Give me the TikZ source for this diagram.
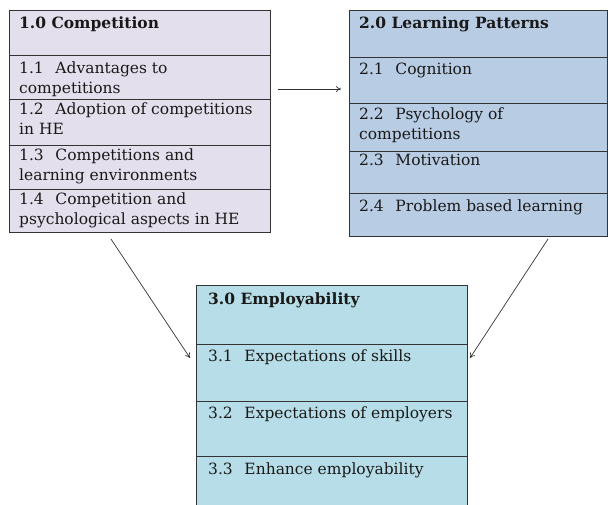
\documentclass[tikz,border=0pt]{standalone}
\usepackage{fontspec}
\setmainfont{DejaVu Serif}
\usetikzlibrary{arrows.meta}
\definecolor{lav}{HTML}{E4DFEC}
\definecolor{lblue}{HTML}{B8CCE4}
\definecolor{lcyan}{HTML}{B7DEE8}
\definecolor{edge}{HTML}{333333}
\newcommand{\nsp}{\hspace{0.75em}}
\begin{document}
\begin{tikzpicture}[x=1pt,y=-1pt,
  cell/.style={draw=edge, line width=0.9pt, inner sep=0pt, anchor=north west},
  txt/.style={anchor=north west, inner sep=0pt, align=left,
    font=\fontsize{15.5}{20}\selectfont, text=black!90},
  conn/.style={draw=black!80, line width=0.7pt, -{To[length=5pt,width=6pt]}}]
\useasboundingbox (0,0) rectangle (608,504);
% ---- Box 1
\node[cell, fill=lav, minimum width=261pt, minimum height=45pt] (c10) at (9,10) {};
\node[cell, fill=lav, minimum width=261pt, minimum height=44pt] (c11) at (9,55) {};
\node[cell, fill=lav, minimum width=261pt, minimum height=46pt] (c12) at (9,99) {};
\node[cell, fill=lav, minimum width=261pt, minimum height=44pt] (c13) at (9,145) {};
\node[cell, fill=lav, minimum width=261pt, minimum height=43pt] (c14) at (9,189) {};
\node[txt] (t10) at ([xshift=10pt,yshift=-6.5pt]c10.north west) {\textbf{1.0 Competition}};
\node[txt] (t11) at ([xshift=10pt,yshift=-6.5pt]c11.north west) {1.1\nsp Advantages to\\competitions};
\node[txt] (t12) at ([xshift=10pt,yshift=-4pt]c12.north west) {1.2\nsp Adoption of competitions\\in HE};
\node[txt] (t13) at ([xshift=10pt,yshift=-3.5pt]c13.north west) {1.3\nsp Competitions and\\learning environments};
\node[txt] (t14) at ([xshift=10pt,yshift=-3.5pt]c14.north west) {1.4\nsp Competition and\\psychological aspects in HE};
% ---- Box 2
\node[cell, fill=lblue, minimum width=258pt, minimum height=47pt] (c20) at (349,10) {};
\node[cell, fill=lblue, minimum width=258pt, minimum height=46pt] (c21) at (349,57) {};
\node[cell, fill=lblue, minimum width=258pt, minimum height=48pt] (c22) at (349,103) {};
\node[cell, fill=lblue, minimum width=258pt, minimum height=42pt] (c23) at (349,151) {};
\node[cell, fill=lblue, minimum width=258pt, minimum height=43pt] (c24) at (349,193) {};
\node[txt] (t20) at ([xshift=10pt,yshift=-7pt]c20.north west) {\textbf{2.0 Learning Patterns}};
\node[txt] (t21) at ([xshift=10pt,yshift=-5.5pt]c21.north west) {2.1\nsp Cognition};
\node[txt] (t22) at ([xshift=10pt,yshift=-4.5pt]c22.north west) {2.2\nsp Psychology of\\competitions};
\node[txt] (t23) at ([xshift=10pt,yshift=-3pt]c23.north west) {2.3\nsp Motivation};
\node[txt] (t24) at ([xshift=10pt,yshift=-6.5pt]c24.north west) {2.4\nsp Problem based learning};
% ---- Box 3
\node[cell, fill=lcyan, minimum width=271pt, minimum height=59pt] (c30) at (196,285) {};
\node[cell, fill=lcyan, minimum width=271pt, minimum height=57pt] (c31) at (196,344) {};
\node[cell, fill=lcyan, minimum width=271pt, minimum height=55pt] (c32) at (196,401) {};
\node[cell, fill=lcyan, minimum width=271pt, minimum height=52pt] (c33) at (196,456) {};
\node[txt] (t30) at ([xshift=12pt,yshift=-7.5pt]c30.north west) {\textbf{3.0 Employability}};
\node[txt] (t31) at ([xshift=12pt,yshift=-5.5pt]c31.north west) {3.1\nsp Expectations of skills};
\node[txt] (t32) at ([xshift=12pt,yshift=-6pt]c32.north west) {3.2\nsp Expectations of employers};
\node[txt] (t33) at ([xshift=12pt,yshift=-6.5pt]c33.north west) {3.3\nsp Enhance employability};
% ---- Connectors
\coordinate (a1s) at (278,89);
\coordinate (a1e) at (341,89);
\coordinate (a2s) at (111,239);
\coordinate (a2e) at (190,358);
\coordinate (a3s) at (548,239);
\coordinate (a3e) at (470,358);
\draw[conn] (a1s) -- (a1e);
\draw[conn] (a2s) -- (a2e);
\draw[conn] (a3s) -- (a3e);
\end{tikzpicture}
\end{document}
